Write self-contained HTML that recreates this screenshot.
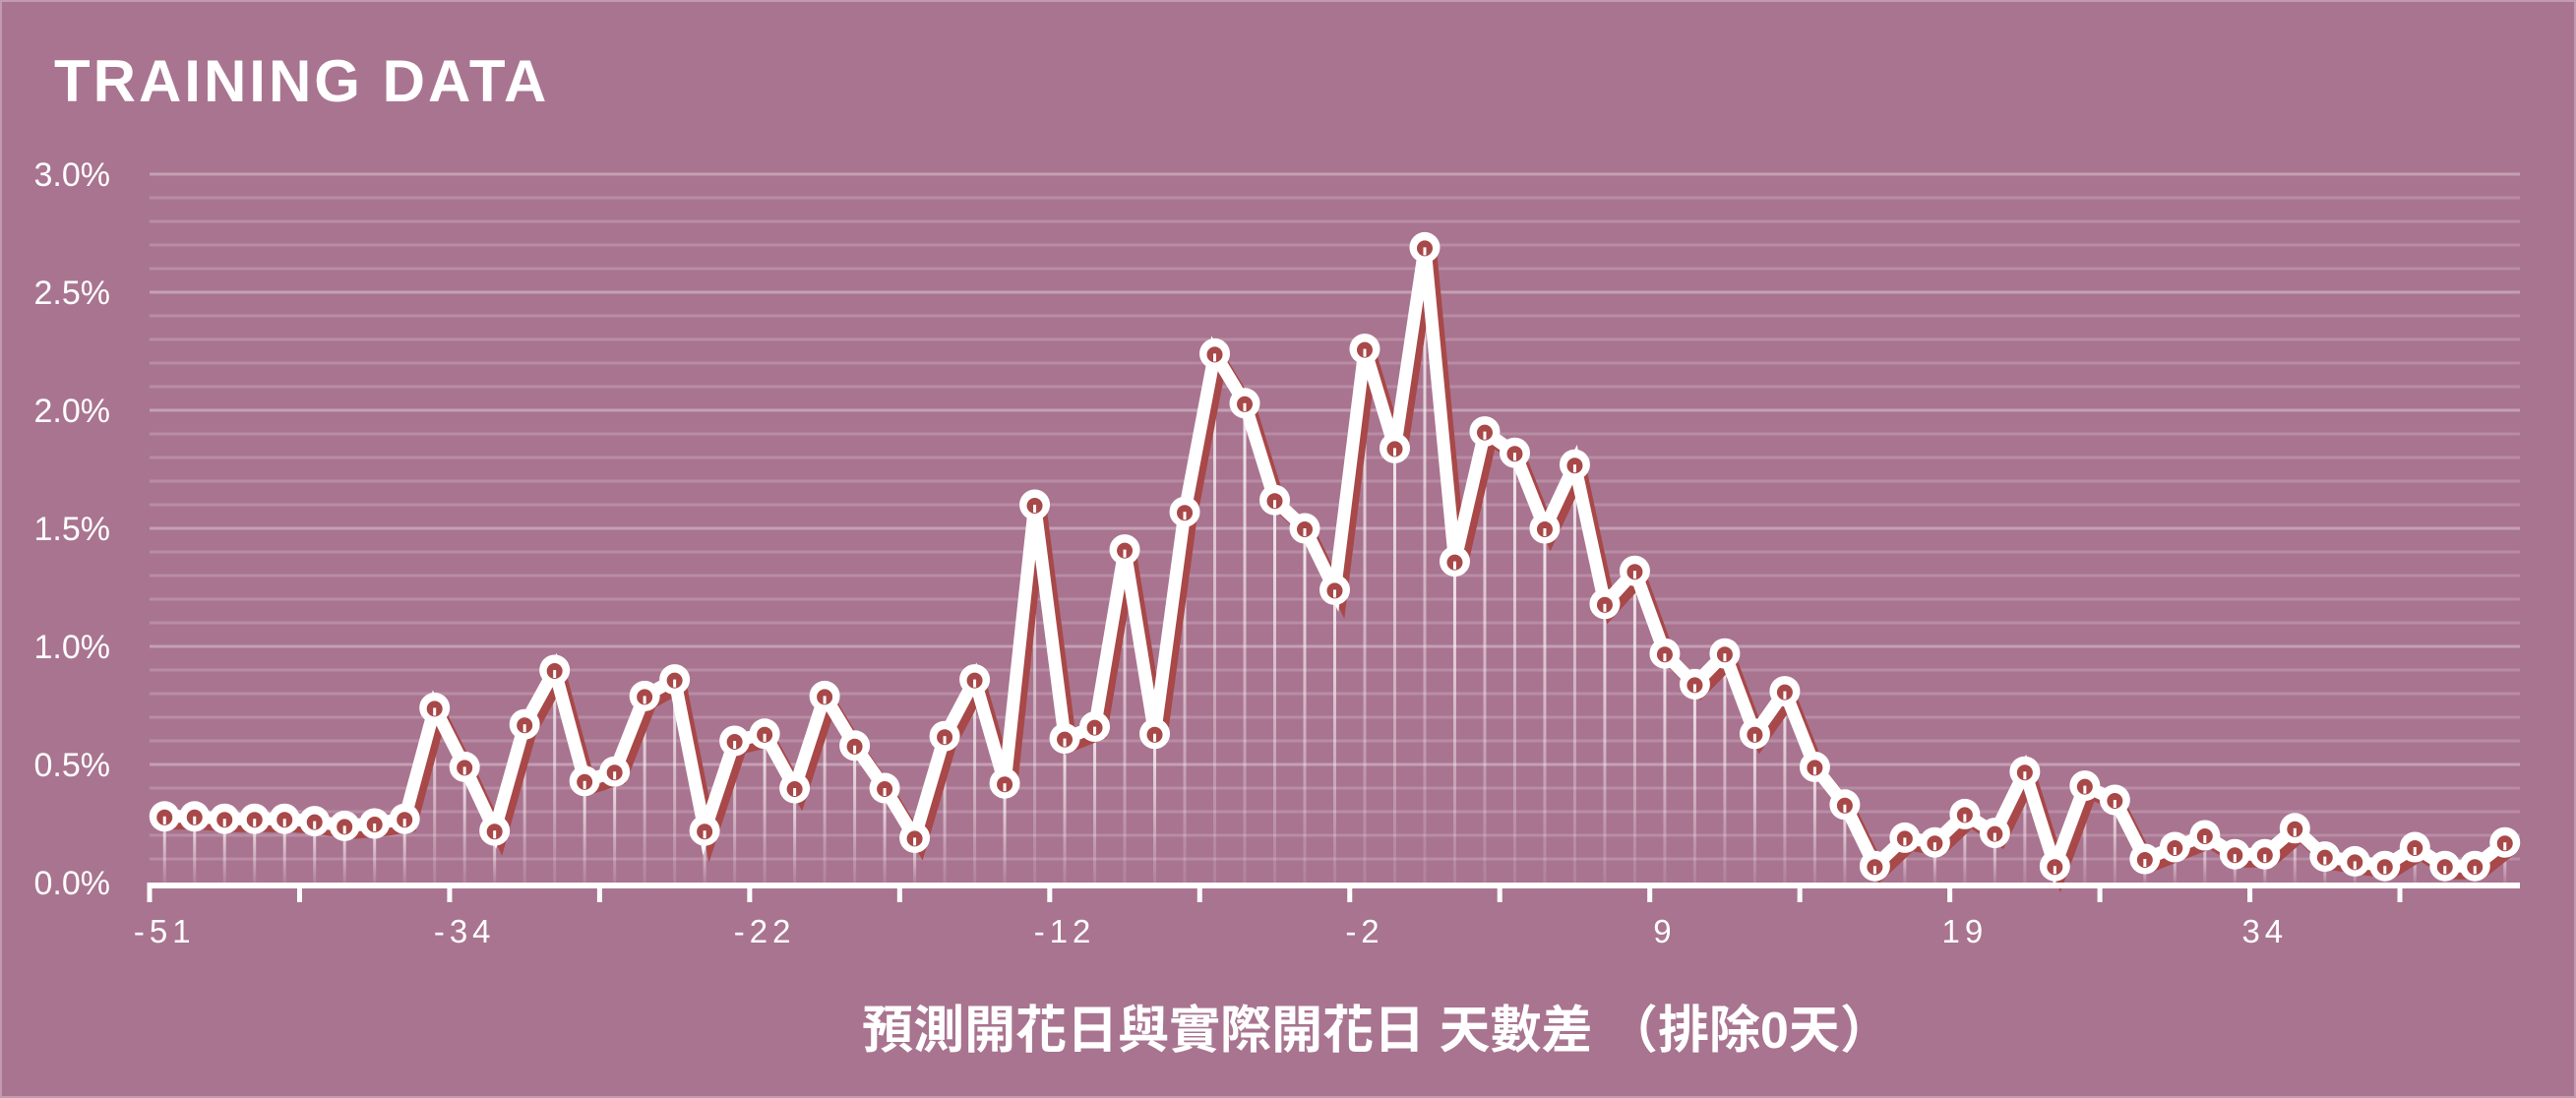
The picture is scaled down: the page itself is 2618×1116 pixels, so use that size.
<!DOCTYPE html>
<html><head><meta charset="utf-8">
<style>
html,body{margin:0;padding:0;background:#a97490;}
svg{display:block;}
text{font-family:"Liberation Sans","Noto Sans CJK TC",sans-serif;fill:#fff;}
</style></head>
<body>
<svg id="chart" width="2618" height="1116" viewBox="0 0 2618 1116" xmlns="http://www.w3.org/2000/svg">
<defs>
<linearGradient id="dropGrad" x1="0" y1="0" x2="0" y2="1">
<stop offset="0" stop-color="#fff" stop-opacity="0.85"/>
<stop offset="1" stop-color="#fff" stop-opacity="0.1"/>
</linearGradient>
</defs>
<rect x="0" y="0" width="2618" height="1116" fill="#a97490" stroke="#c29bb0" stroke-width="4"/>
<text x="55" y="103" font-size="60" font-weight="bold" letter-spacing="3">TRAINING DATA</text>
<g id="grid"></g>
<g id="yaxis"></g>
<g id="drops"></g>
<g id="series"></g>
<g id="xaxis"></g>
<text x="1399" y="1065" font-size="52" font-weight="bold" text-anchor="middle">預測開花日與實際開花日 天數差 （排除0天）</text>
</svg>
<script>
const values = [0.28,0.28,0.27,0.27,0.27,0.26,0.24,0.25,0.27,0.74,
0.49,0.22,0.67,0.90,0.43,0.47,0.79,0.86,0.22,0.60,
0.63,0.40,0.79,0.58,0.40,0.19,0.62,0.86,0.42,1.60,
0.61,0.66,1.41,0.63,1.57,2.24,2.03,1.62,1.50,1.24,
2.26,1.84,2.69,1.36,1.91,1.82,1.50,1.77,1.18,1.32,
0.97,0.84,0.97,0.63,0.81,0.49,0.33,0.07,0.19,0.17,
0.29,0.21,0.47,0.07,0.41,0.35,0.10,0.15,0.20,0.12,
0.12,0.23,0.11,0.09,0.07,0.15,0.07,0.07,0.17];
const xTickLabels = ["-51","-34","-22","-12","-2","9","19","34"];
const xTickLabelIndex = [0,10,20,30,40,50,60,70];
const yTicks = [0,0.5,1.0,1.5,2.0,2.5,3.0];

const NS="http://www.w3.org/2000/svg";
const plotL=152, plotR=2561, y0=897, yTop=177, yMax=3.0;
const n=values.length;
const bw=(plotR-plotL)/n;
const xs=i=>plotL+bw*(i+0.5);
const ys=v=>y0-(v/yMax)*(y0-yTop);
function mk(tag,attrs,parent){const e=document.createElementNS(NS,tag);for(const k in attrs)e.setAttribute(k,attrs[k]);parent.appendChild(e);return e;}

const grid=document.getElementById('grid');
for(let k=1;k<=30;k++){
  const v=k*0.1, major=(k%5===0);
  const l=mk('line',{x1:plotL,x2:plotR,y1:ys(v),y2:ys(v),stroke:'#fff','stroke-opacity':major?0.32:0.18,'stroke-width':3},grid);
  
  
}
const ya=document.getElementById('yaxis');
yTicks.forEach(v=>{
  const t=mk('text',{x:112,y:ys(v)+12,'font-size':34,'text-anchor':'end'},ya);
  t.textContent=v.toFixed(1)+'%';
  
  
});
const drops=document.getElementById('drops');
values.forEach((v,i)=>{
  const l=mk('rect',{x:xs(i)-1.5,y:ys(v),width:3,height:Math.max(0,y0-ys(v)),fill:'url(#dropGrad)'},drops);
  
  
});
const ser=document.getElementById('series');
const pts=values.map((v,i)=>xs(i).toFixed(1)+','+ys(v).toFixed(1)).join(' ');
const shadowPts=values.map((v,i)=>(xs(i)+6).toFixed(1)+','+(ys(v)+7).toFixed(1)).join(' ');
const sh=mk('polyline',{points:shadowPts,fill:'none',stroke:'#a84848','stroke-width':13,'stroke-linejoin':'miter'},ser);


const ln=mk('polyline',{points:pts,fill:'none',stroke:'#fff','stroke-width':13,'stroke-linejoin':'miter'},ser);


values.forEach((v,i)=>{
  const g=mk('g',{},ser);
  
  
  mk('circle',{cx:xs(i),cy:ys(v),r:15.5,fill:'#fff'},g);
  mk('circle',{cx:xs(i),cy:ys(v)+1,r:8,fill:'#a84848'},g);
  mk('rect',{x:xs(i)-1.5,y:ys(v),width:3,height:8,fill:'#fff'},g);
});
const xa=document.getElementById('xaxis');
const axl=mk('line',{x1:plotL,x2:plotR,y1:y0+3,y2:y0+3,stroke:'#fff','stroke-width':6},xa);


for(let k=0;k<=n;k+=5){
  const x=plotL+bw*k;
  const t=mk('line',{x1:x,x2:x,y1:y0,y2:y0+20,stroke:'#fff','stroke-width':5},xa);
  
  
}
xTickLabels.forEach((lab,j)=>{
  const t=mk('text',{x:xs(xTickLabelIndex[j]),y:958,'font-size':33,'text-anchor':'middle','letter-spacing':5},xa);
  t.textContent=lab;
  
  
});
</script>
</body></html>
